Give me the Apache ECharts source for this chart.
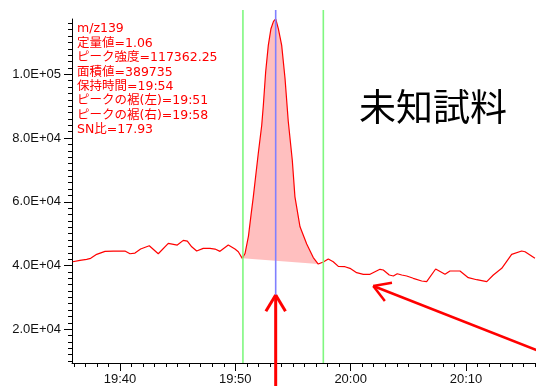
<!DOCTYPE html>
<html>
<head>
<meta charset="utf-8">
<script src="https://cdn.jsdelivr.net/npm/echarts@6/dist/echarts.min.js"></script>
<style>
  html, body { margin: 0; padding: 0; background: #fff; }
  #chart { width: 536px; height: 386px; }
</style>
</head>
<body>
<div id="chart"></div>
<script>
// Retention time in minutes since midnight (19:40 = 1180) and ion intensity for m/z 139
const times = [
  1175.90, 1176.53, 1177.11, 1177.46, 1177.98, 1178.70, 1179.42, 1180.43, 1180.87, 1181.30,
  1181.79, 1182.54, 1183.32, 1184.19, 1184.97, 1185.49, 1185.84, 1186.22, 1186.65, 1187.22,
  1187.80, 1188.24, 1188.67, 1189.39, 1189.97, 1190.26, 1190.60, 1190.84, 1191.14, 1191.36,
  1191.56, 1191.99, 1192.29, 1192.43, 1192.63, 1192.86, 1193.09, 1193.31, 1193.50, 1193.73,
  1194.02, 1194.31, 1194.59, 1194.94, 1195.17, 1195.61, 1196.19, 1196.76, 1197.19, 1197.63,
  1198.06, 1198.49, 1198.93, 1199.51, 1199.94, 1200.52, 1201.10, 1201.68, 1202.11, 1202.54,
  1202.83, 1203.35, 1203.70, 1204.04, 1204.43, 1204.86, 1205.43, 1206.16, 1206.59, 1207.37,
  1208.18, 1208.61, 1209.48, 1210.20, 1210.93, 1211.80, 1212.37, 1213.10, 1213.96, 1214.83,
  1215.12, 1215.98
];
const intensities = [
  41180, 41620, 41930, 42250, 43500, 44440, 44540, 44540, 43690, 43910,
  45160, 46200, 43690, 46950, 46420, 47890, 47670, 45880, 44540, 45380,
  45380, 45160, 44440, 46420, 45160, 44320, 42250, 43750, 49240, 55820,
  61550, 75150, 84020, 90280, 100720, 109090, 114320, 116610, 117362.25, 114320,
  109090, 98700, 85270, 73050, 61550, 52150, 46730, 42500, 40460, 41090,
  42030, 41180, 39740, 39620, 39110, 37740, 37230, 37230, 38050, 38800,
  38580, 37020, 36700, 37420, 37020, 36700, 35980, 35140, 34920, 38900,
  37230, 38270, 38270, 36170, 35540, 34920, 37020, 39110, 43500, 44540,
  44320, 42250
];

// Peak integration window and marker positions (minutes)
const fillRange = [1190.60, 1197.19];
const skirtTimes = [1190.66, 1197.63];
const apexTime = 1193.50;

// Annotation text
const infoLines = [
  'm/z139',
  '定量値=1.06',
  'ピーク強度=117362.25',
  '面積値=389735',
  '保持時間=19:54',
  'ピークの裾(左)=19:51',
  'ピークの裾(右)=19:58',
  'SN比=17.93'
];
const sampleLabel = '未知試料';

// Axis ranges and tick labels
const xRange = [1175.84, 1216.07];
const yRange = [9400, 117362.25];
const xLabelTicks = [1180, 1190, 1200, 1210];
const yLabelTicks = [20000, 40000, 60000, 80000, 100000];
const xMinorTicks = [];
for (let m = 1176; m <= 1216; m++) xMinorTicks.push(m);
const yMinorTicks = [];
for (let v = 10000; v <= 116000; v += 2000) yMinorTicks.push(v);

// Arrows in data coordinates: [tip, tail]
const arrows = [
  { tip: [1193.50, 30750], tail: [1193.50, -800], width: 3 },
  { tip: [1201.96, 33570], tail: [1216.42, 13040], width: 2.5 }
];

const RED = '#ff0000';

function fmtTime(v) {
  const h = Math.floor(v / 60);
  const m = Math.round(v - h * 60);
  return h + ':' + String(m).padStart(2, '0');
}
function fmtSci(v) {
  const e = Math.floor(Math.log10(v));
  const m = v / Math.pow(10, e);
  return m.toFixed(1) + 'E+' + String(e).padStart(2, '0');
}

const lineData = times.map((t, i) => [t, intensities[i]]);
const peakData = lineData.filter(p => p[0] >= fillRange[0] - 1e-6 && p[0] <= fillRange[1] + 1e-6);

const axisText = { color: '#111', fontSize: 13, fontFamily: 'Liberation Sans, Arial, sans-serif' };

const chart = echarts.init(document.getElementById('chart'), null, { renderer: 'canvas' });

chart.setOption({
  animation: false,
  backgroundColor: '#fff',
  grid: { left: 72, right: 0, top: 19, bottom: 23 },
  xAxis: [
    {
      type: 'value', position: 'bottom', min: xRange[0], max: xRange[1],
      axisLine: { show: true, onZero: false, lineStyle: { color: '#000', width: 1 } },
      axisTick: { show: true, customValues: xLabelTicks, length: 8, lineStyle: { color: '#000' } },
      axisLabel: Object.assign({ customValues: xLabelTicks, margin: 10, formatter: fmtTime }, axisText),
      splitLine: { show: false }
    },
    {
      type: 'value', position: 'bottom', min: xRange[0], max: xRange[1],
      axisLine: { show: false, onZero: false },
      axisTick: { show: true, customValues: xMinorTicks, length: 4, lineStyle: { color: '#000' } },
      axisLabel: { show: false },
      splitLine: { show: false }
    }
  ],
  yAxis: [
    {
      type: 'value', position: 'left', min: yRange[0], max: yRange[1],
      axisLine: { show: true, onZero: false, lineStyle: { color: '#000', width: 1 } },
      axisTick: { show: true, customValues: yLabelTicks, length: 8, lineStyle: { color: '#000' } },
      axisLabel: Object.assign({ customValues: yLabelTicks, margin: 11, formatter: fmtSci }, axisText),
      splitLine: { show: false }
    },
    {
      type: 'value', position: 'left', min: yRange[0], max: yRange[1],
      axisLine: { show: false, onZero: false },
      axisTick: { show: true, customValues: yMinorTicks, length: 4, lineStyle: { color: '#000' } },
      axisLabel: { show: false },
      splitLine: { show: false }
    }
  ],
  series: [
    {
      // shaded integrated peak area, closed by the straight baseline between the skirts
      type: 'custom',
      xAxisIndex: 0, yAxisIndex: 0,
      z: 1,
      silent: true,
      data: [[apexTime, yRange[1]]],
      renderItem: function (params, api) {
        const pts = peakData.map(p => api.coord(p));
        return {
          type: 'polygon',
          shape: { points: pts },
          style: { fill: 'rgba(255,0,0,0.25)', stroke: 'none' }
        };
      }
    },
    {
      name: 'm/z139',
      type: 'line',
      xAxisIndex: 0, yAxisIndex: 0,
      z: 2,
      data: lineData,
      symbol: 'none',
      lineStyle: { color: RED, width: 1.2 },
      silent: true
    },
    {
      // peak skirt (green) and apex (blue) markers
      type: 'custom',
      xAxisIndex: 0, yAxisIndex: 0,
      z: 3,
      silent: true,
      clip: false,
      data: [[apexTime, yRange[1]]],
      renderItem: function (params, api) {
        const children = [];
        const vline = (t, color) => {
          const bottom = api.coord([t, yRange[0]]);
          const top = api.coord([t, yRange[1]]);
          children.push({
            type: 'line',
            shape: { x1: bottom[0], y1: bottom[1], x2: top[0], y2: top[1] - 9 },
            style: { stroke: color, lineWidth: 1.6 }
          });
        };
        skirtTimes.forEach(t => vline(t, '#7ff77f'));
        vline(apexTime, '#8080ff');
        return { type: 'group', children: children };
      }
    },
    {
      // annotation arrows
      type: 'custom',
      xAxisIndex: 0, yAxisIndex: 0,
      z: 4,
      silent: true,
      clip: false,
      data: [[apexTime, yRange[1]]],
      renderItem: function (params, api) {
        const children = [];
        arrows.forEach(a => {
          const p = api.coord(a.tip);
          const q = api.coord(a.tail);
          const dx = q[0] - p[0], dy = q[1] - p[1];
          const len = Math.hypot(dx, dy);
          const ux = dx / len, uy = dy / len;
          const style = { stroke: RED, lineWidth: a.width, lineCap: 'butt' };
          children.push({ type: 'line', shape: { x1: p[0], y1: p[1], x2: q[0], y2: q[1] }, style: style });
          const head = 19, ang = 31 * Math.PI / 180;
          [ang, -ang].forEach(s => {
            const c = Math.cos(s), sn = Math.sin(s);
            const hx = ux * c - uy * sn, hy = ux * sn + uy * c;
            children.push({
              type: 'line',
              shape: { x1: p[0], y1: p[1], x2: p[0] + hx * head, y2: p[1] + hy * head },
              style: style
            });
          });
        });
        return { type: 'group', children: children };
      }
    }
  ],
  graphic: [
    {
      type: 'text',
      left: 77, top: 22,
      z: 10,
      style: {
        text: infoLines.join('\n'),
        fill: RED,
        font: '12.5px "DejaVu Sans", "Noto Sans CJK JP", sans-serif',
        lineHeight: 14.4
      }
    },
    {
      type: 'text',
      left: 359, top: 88,
      z: 10,
      style: {
        text: sampleLabel,
        fill: '#000',
        font: '37px "Noto Sans CJK JP", sans-serif'
      }
    }
  ]
});
</script>
</body>
</html>
